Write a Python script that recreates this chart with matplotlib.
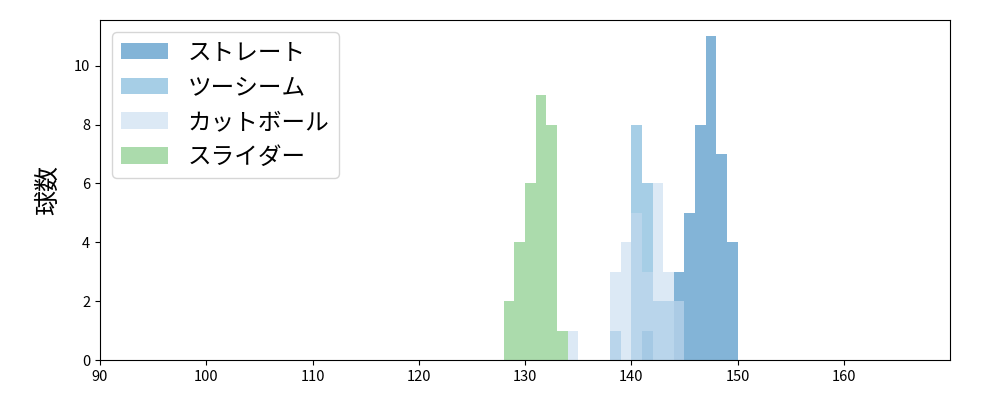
import matplotlib
matplotlib.use("Agg")
import matplotlib.pyplot as plt
import numpy as np

plt.rcParams['font.family'] = ['Noto Sans CJK JP', 'DejaVu Sans']

edges = list(range(126, 152))  # 1 km/h bins
labels = ["ストレート", "ツーシーム", "カットボール", "スライダー"]
colors = ["#3182bd", "#6baed6", "#c6dbef", "#74c476"]

# counts per bin (bin start km/h -> count)
straight = {141: 1, 144: 3, 145: 5, 146: 8, 147: 11, 148: 7, 149: 4}
twoseam = {138: 1, 140: 8, 141: 6, 142: 2, 143: 2}
cutball = {134: 1, 138: 3, 139: 4, 140: 5, 141: 3, 142: 6, 143: 3, 144: 2}
slider = {128: 2, 129: 4, 130: 6, 131: 9, 132: 8, 133: 1}

fig = plt.figure(figsize=(10, 4), dpi=100)
ax = fig.add_axes([0.1, 0.1, 0.85, 0.85])

for data, lab, col in zip([straight, twoseam, cutball, slider], labels, colors):
    starts = np.array(list(data.keys()), dtype=float)
    counts = np.array(list(data.values()), dtype=float)
    ax.hist(starts + 0.5, bins=edges, weights=counts, color=col, alpha=0.6, label=lab)

ax.set_xlim(90, 170)
ax.set_ylim(0, 11.55)
ax.set_xticks(range(90, 170, 10))
ax.set_yticks(range(0, 11, 2))
ax.tick_params(labelsize=10.5)
ax.set_ylabel("球数", fontsize=18, labelpad=9)
ax.legend(loc="upper left", fontsize=17)

fig.savefig("out.png", dpi=100)
